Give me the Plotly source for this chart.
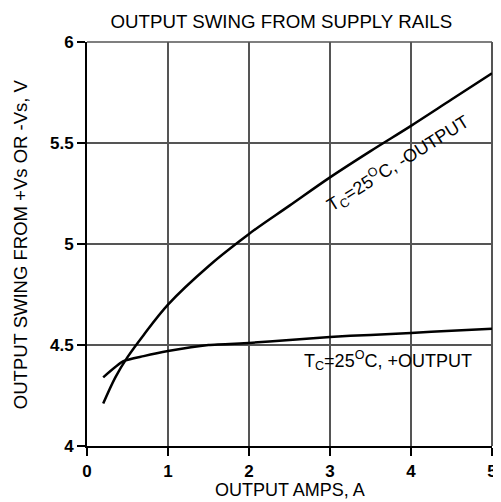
import plotly.graph_objects as go

# -OUTPUT curve
neg_x = [0.2, 0.35, 0.5, 0.7, 1.0, 1.5, 2.0, 2.5, 3.0, 3.5, 4.0, 4.5, 5.0]
neg_y = [4.21, 4.34, 4.44, 4.55, 4.70, 4.89, 5.05, 5.19, 5.33, 5.46, 5.585, 5.715, 5.845]

# +OUTPUT curve
pos_x = [0.2, 0.45, 0.7, 1.0, 1.5, 2.0, 2.5, 3.0, 3.5, 4.0, 4.5, 5.0]
pos_y = [4.34, 4.42, 4.445, 4.47, 4.50, 4.51, 4.525, 4.54, 4.55, 4.56, 4.57, 4.58]

x_ticks = [0, 1, 2, 3, 4, 5]
y_ticks = [4, 4.5, 5, 5.5, 6]
y_tick_labels = ["4", "4.5", "5", "5.5", "6"]

FONT = "Liberation Sans, Arial, sans-serif"

fig = go.Figure()
fig.add_trace(go.Scatter(x=neg_x, y=neg_y, mode="lines",
                         line=dict(color="black", width=2.5, shape="spline", smoothing=1.0),
                         showlegend=False, hoverinfo="skip"))
fig.add_trace(go.Scatter(x=pos_x, y=pos_y, mode="lines",
                         line=dict(color="black", width=2.5, shape="spline", smoothing=0.6),
                         showlegend=False, hoverinfo="skip"))

fig.add_annotation(x=3.83, y=5.40, xref="x", yref="y",
                   text="T<sub>C</sub>=25<sup>O</sup>C, -OUTPUT",
                   textangle=-32, showarrow=False,
                   font=dict(family=FONT, size=18, color="black"))
fig.add_annotation(x=3.71, y=4.425, xref="x", yref="y",
                   text="T<sub>C</sub>=25<sup>O</sup>C, +OUTPUT",
                   showarrow=False,
                   font=dict(family=FONT, size=18, color="black"))

# axis titles
fig.add_annotation(x=0.5, y=-0.109, xref="paper", yref="paper",
                   text="OUTPUT AMPS, A", showarrow=False,
                   xanchor="center", yanchor="middle",
                   font=dict(family=FONT, size=18, color="black"))
fig.add_annotation(x=-0.165, y=0.5, xref="paper", yref="paper",
                   text="OUTPUT SWING FROM +Vs OR -Vs, V", showarrow=False,
                   textangle=-90, xanchor="center", yanchor="middle",
                   font=dict(family=FONT, size=18.5, color="black"))

# frame: top and right borders
fig.add_shape(type="line", xref="paper", yref="paper", x0=0, x1=1, y0=1, y1=1,
              line=dict(color="#555555", width=1.5), layer="below")
fig.add_shape(type="line", xref="paper", yref="paper", x0=1, x1=1, y0=0, y1=1,
              line=dict(color="#555555", width=2), layer="below")

fig.update_layout(
    width=501, height=502,
    margin=dict(l=79, r=17, t=34, b=64, autoexpand=False),
    plot_bgcolor="white", paper_bgcolor="white",
    title=dict(text="OUTPUT SWING FROM SUPPLY RAILS", x=0.48, xanchor="center",
               y=0.974, yanchor="middle", xref="paper", yref="container",
               font=dict(family=FONT, size=18.7, color="black")),
    font=dict(family=FONT, color="black"),
)
fig.update_xaxes(range=[0, 5], tickvals=x_ticks,
                 ticktext=["<b>%s</b>" % v for v in x_ticks],
                 showline=True, linecolor="black", linewidth=2,
                 ticks="outside", ticklen=8, tickwidth=1.5, tickcolor="black",
                 ticklabelstandoff=1,
                 showgrid=True, gridcolor="#555555", gridwidth=1.5,
                 zeroline=False, automargin=False,
                 tickfont=dict(family=FONT, size=17, color="black"))
fig.update_yaxes(range=[4, 6], tickvals=y_ticks,
                 ticktext=["<b>%s</b>" % t for t in y_tick_labels],
                 showline=True, linecolor="black", linewidth=2,
                 ticks="outside", ticklen=8, tickwidth=1.5, tickcolor="black",
                 showgrid=True, gridcolor="#555555", gridwidth=1.5,
                 zeroline=False, automargin=False,
                 tickfont=dict(family=FONT, size=17, color="black"))

fig.write_html("out.html")
